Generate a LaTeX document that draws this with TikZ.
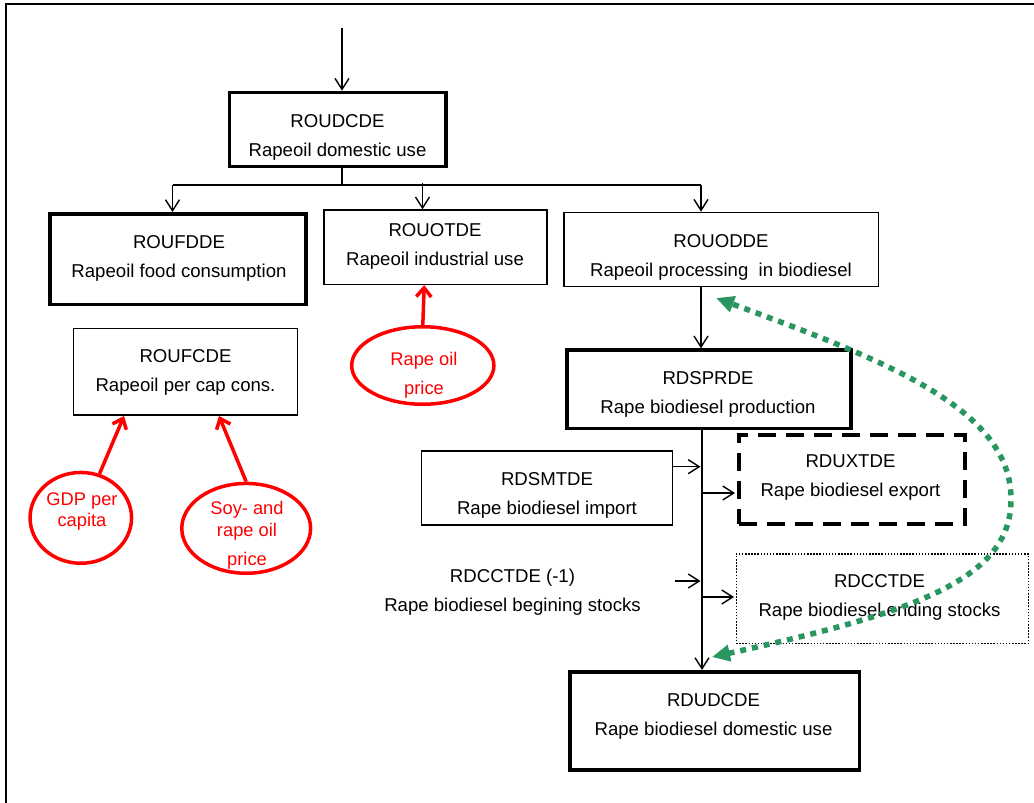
\documentclass[tikz,border=0pt]{standalone}
\usepackage{fontspec}
\setmainfont{Liberation Sans}
\usetikzlibrary{arrows.meta,shapes.geometric,calc}
\definecolor{gdot}{RGB}{41,150,95}
\begin{document}
\begin{tikzpicture}[x=1pt,y=-1pt,
  box/.style={draw=black, rectangle, line width=1.6pt, inner sep=0pt},
  bbox/.style={box, line width=3.5pt},
  dbox/.style={box, line width=4pt, dash pattern=on 18pt off 10pt},
  obox/.style={box, line width=1.2pt, dash pattern=on 1.5pt off 1.6pt},
  lbl/.style={font=\fontsize{18.6}{29}\selectfont, align=center, inner sep=0pt, anchor=base},
  rlbl/.style={text=red, font=\fontsize{18.3}{21.4}\selectfont, align=center, inner sep=0pt, anchor=base},
  rell/.style={draw=red, ellipse, line width=3.5pt, inner sep=0pt},
  arr/.style={line width=1.4pt, -{Straight Barb[length=11pt,width=14pt]}},
  rarr/.style={draw=red, line width=3.5pt, -{Straight Barb[length=9pt,width=15pt]}},
  garr/.style={draw=gdot, line width=5.5pt, dash pattern=on 6pt off 6pt,
    {Triangle[length=18pt,width=16pt]}-{Triangle[length=18pt,width=16pt]}},
]
\useasboundingbox (0,0) rectangle (1034,803);
% frame
\draw[line width=2pt] (1034,4.2) -- (6,4.2) -- (6,803);

% boxes
\node[bbox, minimum width=216.5pt, minimum height=73.8pt] (roudcde) at (337.9,129.35) {};
\node[bbox, minimum width=255.9pt, minimum height=90.5pt] (roufdde) at (178,259) {};
\node[box, minimum width=223pt, minimum height=74.2pt] (rouotde) at (435.2,247.2) {};
\node[box, minimum width=314.4pt, minimum height=74pt] (rouodde) at (721.3,249.5) {};
\node[box, minimum width=224pt, minimum height=86.7pt] (roufcde) at (185.5,371.85) {};
\node[bbox, minimum width=284.2pt, minimum height=78.2pt] (rdsprde) at (708.85,389.15) {};
\node[box, minimum width=251pt, minimum height=74.1pt] (rdsmtde) at (547,487.85) {};
\node[dbox, minimum width=226pt, minimum height=89.3pt] (rduxtde) at (852,479.35) {};
\node[obox, minimum width=292.2pt, minimum height=89.4pt] (rdcctde) at (882.25,598.65) {};
\node[bbox, minimum width=289.5pt, minimum height=98.2pt] (rdudcde) at (714.5,720.85) {};

% texts (anchor = baseline of the last line)
\node[lbl] (t-roudcde) at (337.5,156.6) {ROUDCDE\\Rapeoil domestic use};
\node[lbl] (t-roufdde) at (179,277.3) {ROUFDDE\\Rapeoil food consumption};
\node[lbl] (t-rouotde) at (435,265.6) {ROUOTDE\\Rapeoil industrial use};
\node[lbl] (t-rouodde) at (721,276) {ROUODDE\\Rapeoil processing\ \ in biodiesel};
\node[lbl] (t-roufcde) at (185.5,391.3) {ROUFCDE\\Rapeoil per cap cons.};
\node[lbl] (t-rdsprde) at (708,413.3) {RDSPRDE\\Rape biodiesel production};
\node[lbl] (t-rdsmtde) at (547,514.3) {RDSMTDE\\Rape biodiesel import};
\node[lbl] (t-rduxtde) at (850.5,496.6) {RDUXTDE\\Rape biodiesel export};
\node[lbl] (t-begin) at (512.5,611) {RDCCTDE (-1)\\Rape biodiesel begining stocks};
\node[lbl] (t-rdcctde) at (879.5,616.6) {RDCCTDE\\Rape biodiesel ending stocks};
\node[lbl] (t-rdudcde) at (713.5,735) {RDUDCDE\\Rape biodiesel domestic use};

% red ellipses
\node[rell, minimum width=101.5pt, minimum height=90.8pt] (gdp) at (80.8,517.85) {};
\node[rell, minimum width=128.8pt, minimum height=89.8pt] (soy) at (246.2,528.35) {};
\node[rell, minimum width=142.2pt, minimum height=77.5pt] (rop) at (422.8,365.5) {};
\node[rlbl] (t-gdp) at (82,526.5) {GDP per\\capita};
\node[rlbl] (t-soy) at (247,565) {Soy- and\\rape oil\\[7.6pt]price};
\node[rlbl] (t-rop) at (424,394.2) {Rape oil\\[7.4pt]price};

% red arrows
\draw[rarr] (gdp.67) -- ($(roufcde.south west)+(51.3,0)$);
\draw[rarr] (soy.north) -- ($(roufcde.south west)+(146.3,0)$);
\draw[rarr] (rop.north) -- ($(rouotde.south)+(-11,0)$);

% top connectors
\coordinate (entry) at (342,27.5);
\coordinate (br) at (342,185);
\coordinate (bl) at (172.5,185);
\coordinate (bm) at (422.5,185);
\coordinate (brr) at (701,185);
\draw[arr] (entry) -- (entry |- roudcde.north);
\draw[line width=1.4pt] (roudcde.south -| br) -- (br);
\draw[line width=1.4pt] (bl) -- (brr);
\draw[arr] (bl) -- (bl |- roufdde.north);
\draw[arr] ($(bm)+(0,-2)$) -- (bm |- rouotde.north);
\draw[arr] (brr) -- (brr |- rouodde.north);

% right column
\coordinate (c1) at (701,0);
\coordinate (sp) at (702,0);
\draw[arr] (rouodde.south -| c1) -- (rdsprde.north -| c1);
\draw[arr] (rdsprde.south -| sp) -- (rdudcde.north -| sp);
\coordinate (imp) at ($(rdsmtde.east)+(0,-21.15)$);
\draw[arr] (imp) -- ($(imp -| sp)+(-1.5,0)$);
\coordinate (ex) at ($(rduxtde.west)+(-2,13.65)$);
\draw[arr] (ex -| sp) -- (ex);
\coordinate (bs) at (675,581);
\draw[arr] (bs) -- ($(bs -| sp)+(-1.5,0)$);
\coordinate (es) at ($(rdcctde.west)+(-1.5,-1.65)$);
\draw[arr] (es -| sp) -- (es);

% green dotted feedback
\coordinate (gtop) at (716,298);
\coordinate (gbot) at (712,657);
\draw[garr] (gbot) .. controls (912,613) and (1011,580) .. (1011,500)
  .. controls (1012,410) and (890,362) .. (gtop);
\end{tikzpicture}
\end{document}
